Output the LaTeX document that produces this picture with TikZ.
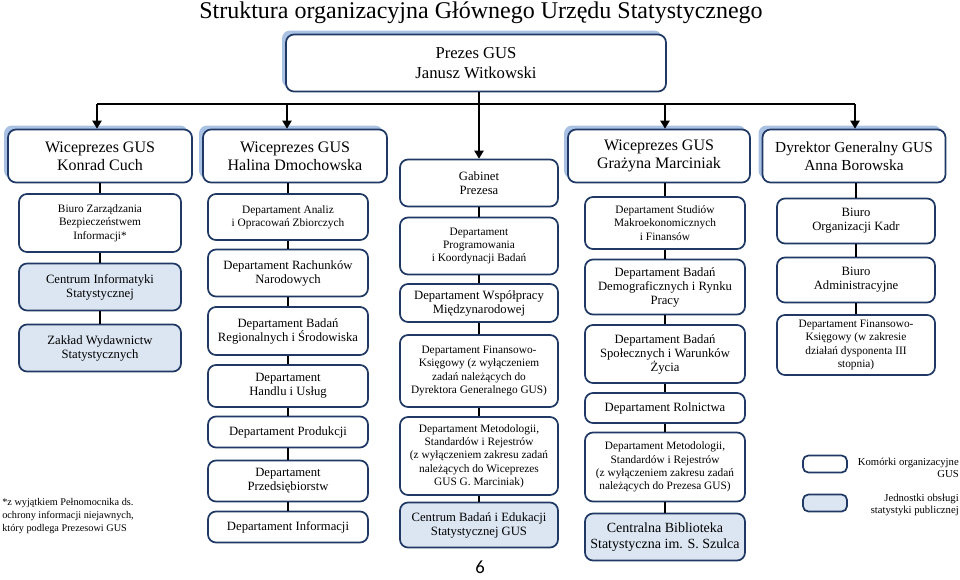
\documentclass[tikz,border=0pt]{standalone}
\usepackage{fontspec}
\setmainfont{Liberation Serif}
\newfontfamily\pagefont{Carlito}
\usetikzlibrary{arrows.meta,shadows}
\definecolor{GusNavy}{HTML}{1F3864}
\definecolor{GusPale}{HTML}{DCE6F2}
\definecolor{GusShadow}{HTML}{A9C1E2}

\begin{document}
\begin{tikzpicture}[x=0.75pt,y=-0.75pt,
    box/.style 2 args={draw=GusNavy,line width=1.3pt,rounded corners=6pt,fill=white,
      align=center,inner sep=1pt,minimum width=#1*0.75pt,minimum height=#2*0.75pt,
      font=\fontsize{9.5}{10.5}\selectfont},
    service/.style 2 args={box={#1}{#2},fill=GusPale},
    head/.style 2 args={box={#1}{#2},font=\fontsize{12}{13.5}\selectfont,
      drop shadow={shadow xshift=-3pt,shadow yshift=3pt,fill=GusShadow,opacity=1}},
    dense/.style={font=\fontsize{8.5}{10}\selectfont},
    link/.style={line width=1.1pt},
    feed/.style={link,-{Triangle[width=7pt,length=6pt]}}]
  \useasboundingbox (0,0) rectangle (960,579);

  \node[font=\fontsize{18}{20}\selectfont] (title) at (481,13)
    {Struktura organizacyjna Głównego Urzędu Statystycznego};
  \node[head={380}{57},font=\fontsize{12.5}{15}\selectfont] (prezes) at (476,63)
    {Prezes GUS\\Janusz Witkowski};

  % kierownictwo
  \node[head={184}{53}] (konrad) at (100,156) {Wiceprezes GUS\\Konrad Cuch};
  \node[head={184}{53}] (halina) at (295,156) {Wiceprezes GUS\\Halina Dmochowska};
  \node[head={182}{53}] (grazyna) at (659,156) {Wiceprezes GUS\\Grażyna Marciniak};
  \node[head={183}{53},font=\fontsize{11.5}{13.5}\selectfont] (anna) at (854,156)
    {Dyrektor Generalny GUS\\Anna Borowska};

  % pion K. Cuch
  \node[box={162}{58},dense] (k1) at (100,223) {Biuro Zarządzania\\Bezpieczeństwem\\Informacji*};
  \node[service={162}{47}] (k2) at (100,287) {Centrum Informatyki\\Statystycznej};
  \node[service={162}{47}] (k3) at (100,348) {Zakład Wydawnictw\\Statystycznych};

  % pion H. Dmochowska
  \node[box={160}{46},dense] (h1) at (288,217) {Departament Analiz\\i Opracowań Zbiorczych};
  \node[box={160}{47}] (h2) at (288,273) {Departament Rachunków\\Narodowych};
  \node[box={160}{48}] (h3) at (288,331) {Departament Badań\\Regionalnych i Środowiska};
  \node[box={160}{42}] (h4) at (288,386) {Departament\\Handlu i Usług};
  \node[box={160}{31}] (h5) at (288,432) {Departament Produkcji};
  \node[box={160}{41}] (h6) at (288,481) {Departament\\Przedsiębiorstw};
  \node[box={160}{31}] (h7) at (288,527) {Departament Informacji};

  % pion Prezesa
  \node[box={158}{47}] (g0) at (479,183) {Gabinet\\Prezesa};
  \node[box={158}{57},dense] (g1) at (479,246) {Departament\\Programowania\\i Koordynacji Badań};
  \node[box={158}{38}] (g2) at (479,303) {Departament Współpracy\\Międzynarodowej};
  \node[box={158}{72},dense] (g3) at (479,371)
    {Departament Finansowo-\\Księgowy (z wyłączeniem\\zadań należących do\\Dyrektora Generalnego GUS)};
  \node[box={158}{78},dense] (g4) at (479,456)
    {Departament Metodologii,\\Standardów i Rejestrów\\(z wyłączeniem zakresu zadań\\należących do Wiceprezes\\GUS G. Marciniak)};
  \node[service={158}{45}] (g5) at (479,525) {Centrum Badań i Edukacji\\Statystycznej GUS};

  % pion G. Marciniak
  \node[box={160}{52},dense] (m1) at (665,223) {Departament Studiów\\Makroekonomicznych\\i Finansów};
  \node[box={160}{55}] (m2) at (665,287) {Departament Badań\\Demograficznych i Rynku\\Pracy};
  \node[box={160}{58}] (m3) at (665,354) {Departament Badań\\Społecznych i Warunków\\Życia};
  \node[box={160}{30}] (m4) at (665,408) {Departament Rolnictwa};
  \node[box={160}{69},dense] (m5) at (665,467)
    {Departament Metodologii,\\Standardów i Rejestrów\\(z wyłączeniem zakresu zadań\\należących do Prezesa GUS)};
  \node[service={160}{47},font=\fontsize{10.5}{12}\selectfont] (m6) at (665,537)
    {Centralna Biblioteka\\Statystyczna im. S. Szulca};

  % pion Dyrektora Generalnego
  \node[box={158}{45}] (a1) at (856,221) {Biuro\\Organizacji Kadr};
  \node[box={158}{45}] (a2) at (856,280) {Biuro\\Administracyjne};
  \node[box={158}{60},dense] (a3) at (856,345)
    {Departament Finansowo-\\Księgowy (w zakresie\\działań dysponenta III\\stopnia)};

  % legenda i przypis
  \node[box={44}{17},rounded corners=4pt] (keyunit) at (825,464) {};
  \node[service={44}{17},rounded corners=4pt] (keyservice) at (825,503) {};
  \node[anchor=east,align=right,inner sep=0pt,font=\fontsize{8}{9.5}\selectfont] (keyunit-label)
    at (959,468) {Komórki organizacyjne\\GUS};
  \node[anchor=east,align=right,inner sep=0pt,font=\fontsize{8}{9.5}\selectfont] (keyservice-label)
    at (959,505) {Jednostki obsługi\\statystyki publicznej};
  \node[anchor=west,align=left,inner sep=0pt,font=\fontsize{7.7}{9.5}\selectfont] (note) at (2,516)
    {*z wyjątkiem Pełnomocnika ds.\\ochrony informacji niejawnych,\\który podlega Prezesowi GUS};
  \node[font=\pagefont\fontsize{14}{16}\selectfont] (pageno) at (480,567) {6};

  % magistrala
  \foreach \c/\x in {konrad/97,halina/287,grazyna/665,anna/855}
    \coordinate (drop-\c) at (\x,104);
  \draw[link] (drop-konrad) -- (drop-anna);
  \foreach \c in {konrad,halina,grazyna,anna}
    \draw[feed] (drop-\c) -- (drop-\c |- \c.north);
  \draw[feed] (g0.north |- prezes.south) -- (g0.north);

  \foreach \a/\b in {konrad/k1,k1/k2,k2/k3,
      halina/h1,h1/h2,h2/h3,h3/h4,h4/h5,h5/h6,h6/h7,
      g0/g1,g1/g2,g2/g3,g3/g4,g4/g5,
      grazyna/m1,m1/m2,m2/m3,m3/m4,m4/m5,m5/m6,
      anna/a1,a1/a2,a2/a3}
    \draw[link] (\b.north) -- (\b.north |- \a.south);
\end{tikzpicture}
\end{document}
